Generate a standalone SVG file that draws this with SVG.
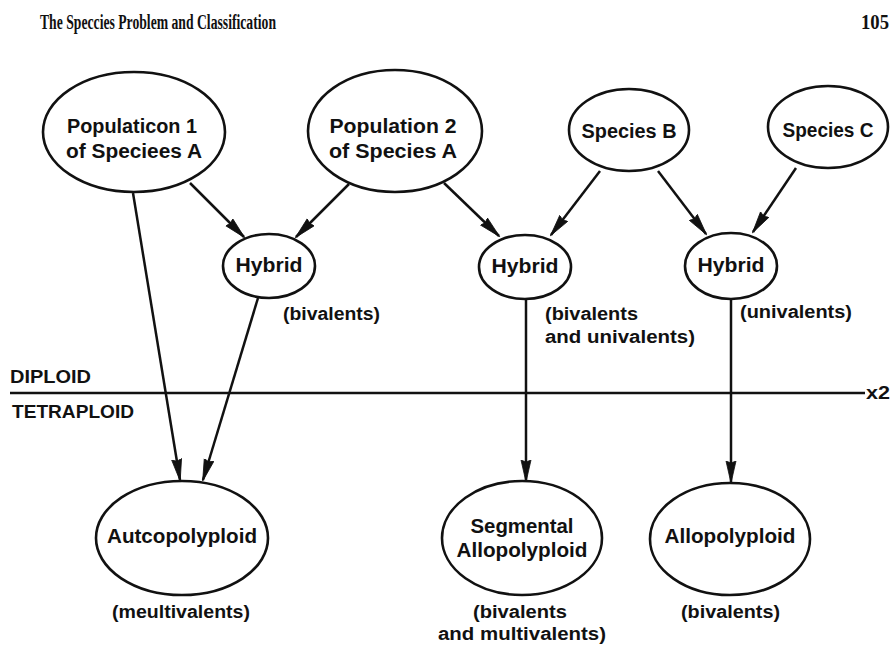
<svg xmlns="http://www.w3.org/2000/svg" width="891" height="647" viewBox="0 0 891 647">
<style>
  .node { fill: #fff; stroke: #111; stroke-width: 2.6; }
  .t { font-family: "Liberation Sans", Arial, sans-serif; font-weight: bold; font-size: 20px; fill: #111; text-anchor: middle; }
  .l { font-family: "Liberation Sans", Arial, sans-serif; font-weight: bold; font-size: 18px; fill: #111; }
  .edge { stroke: #111; stroke-width: 2.5; fill: none; marker-end: url(#arr); }
  .hdr { font-family: "Liberation Serif", "Times New Roman", serif; font-weight: bold; font-size: 20px; fill: #111; }
</style>
<defs>
  <marker id="arr" markerUnits="userSpaceOnUse" markerWidth="24" markerHeight="12" refX="21" refY="5.5" orient="auto">
    <path d="M0,0.5 L22,5.5 L0,10.5 L2,5.5 z" fill="#111" stroke="#111" stroke-width="0.8" stroke-linejoin="round"/>
  </marker>
</defs>
<rect width="891" height="647" fill="#fff"/>

<text class="hdr" x="40" y="29" textLength="236" lengthAdjust="spacingAndGlyphs">The Speccies Problem and Classification</text>
<text class="hdr" x="861" y="29" textLength="28" lengthAdjust="spacingAndGlyphs">105</text>

<g id="connectors">
  <line class="edge" x1="133" y1="193" x2="180" y2="480"/>
  <line class="edge" x1="258" y1="298" x2="203" y2="480"/>
  <line class="edge" x1="190" y1="183" x2="244" y2="237"/>
  <line class="edge" x1="349" y1="184" x2="296" y2="237"/>
  <line class="edge" x1="444" y1="183" x2="499" y2="236"/>
  <line class="edge" x1="600" y1="171" x2="551" y2="235"/>
  <line class="edge" x1="658" y1="171" x2="706" y2="234"/>
  <line class="edge" x1="796" y1="168" x2="753" y2="232"/>
  <line class="edge" x1="526" y1="300" x2="526" y2="481"/>
  <line class="edge" x1="731" y1="299" x2="731" y2="482"/>
</g>

<g id="ploidy">
  <line x1="10" y1="393" x2="865" y2="393" stroke="#111" stroke-width="2.6"/>
  <text class="l" x="10" y="383" textLength="81" lengthAdjust="spacingAndGlyphs">DIPLOID</text>
  <text class="l" x="12" y="418" textLength="122" lengthAdjust="spacingAndGlyphs">TETRAPLOID</text>
  <text class="l" x="866" y="399" textLength="24" lengthAdjust="spacingAndGlyphs">x2</text>
</g>

<g id="pop1">
  <ellipse class="node" cx="134" cy="132" rx="91" ry="60"/>
  <text class="t" x="132" y="133" textLength="130" lengthAdjust="spacingAndGlyphs">Populaticon 1</text>
  <text class="t" x="134" y="158" textLength="136" lengthAdjust="spacingAndGlyphs">of Speciees  A</text>
</g>
<g id="pop2">
  <ellipse class="node" cx="395" cy="131" rx="87" ry="61"/>
  <text class="t" x="393" y="133" textLength="127" lengthAdjust="spacingAndGlyphs">Population 2</text>
  <text class="t" x="393" y="158" textLength="128" lengthAdjust="spacingAndGlyphs">of Species  A</text>
</g>
<g id="speciesB">
  <ellipse class="node" cx="629" cy="130" rx="60" ry="41"/>
  <text class="t" x="629" y="138" textLength="95" lengthAdjust="spacingAndGlyphs">Species  B</text>
</g>
<g id="speciesC">
  <ellipse class="node" cx="828" cy="127" rx="60" ry="41"/>
  <text class="t" x="828" y="137" textLength="91" lengthAdjust="spacingAndGlyphs">Species C</text>
</g>
<g id="hybrid1">
  <ellipse class="node" cx="269" cy="266" rx="46" ry="32"/>
  <text class="t" x="269" y="272" textLength="67" lengthAdjust="spacingAndGlyphs">Hybrid</text>
  <text class="l" x="283" y="320" textLength="97" lengthAdjust="spacingAndGlyphs">(bivalents)</text>
</g>
<g id="hybrid2">
  <ellipse class="node" cx="525" cy="267" rx="46" ry="32"/>
  <text class="t" x="525" y="273" textLength="67" lengthAdjust="spacingAndGlyphs">Hybrid</text>
  <text class="l" x="545" y="320" textLength="93" lengthAdjust="spacingAndGlyphs">(bivalents</text>
  <text class="l" x="545" y="343" textLength="150" lengthAdjust="spacingAndGlyphs">and univalents)</text>
</g>
<g id="hybrid3">
  <ellipse class="node" cx="731" cy="266" rx="46" ry="33"/>
  <text class="t" x="731" y="272" textLength="67" lengthAdjust="spacingAndGlyphs">Hybrid</text>
  <text class="l" x="740" y="318" textLength="112" lengthAdjust="spacingAndGlyphs">(univalents)</text>
</g>
<g id="autopolyploid">
  <ellipse class="node" cx="182" cy="538" rx="86" ry="57"/>
  <text class="t" x="182" y="543" textLength="150" lengthAdjust="spacingAndGlyphs">Autcopolyploid</text>
  <text class="l" x="112" y="618" textLength="138" lengthAdjust="spacingAndGlyphs">(meultivalents)</text>
</g>
<g id="segmental">
  <ellipse class="node" cx="522" cy="538" rx="80" ry="57"/>
  <text class="t" x="522" y="533" textLength="103" lengthAdjust="spacingAndGlyphs">Segmental</text>
  <text class="t" x="522" y="557" textLength="131" lengthAdjust="spacingAndGlyphs">Allopolyploid</text>
  <text class="l" x="473" y="618" textLength="94" lengthAdjust="spacingAndGlyphs">(bivalents</text>
  <text class="l" x="438" y="640" textLength="168" lengthAdjust="spacingAndGlyphs">and multivalents)</text>
</g>
<g id="allopolyploid">
  <ellipse class="node" cx="730" cy="539" rx="80" ry="56"/>
  <text class="t" x="730" y="543" textLength="131" lengthAdjust="spacingAndGlyphs">Allopolyploid</text>
  <text class="l" x="681" y="618" textLength="99" lengthAdjust="spacingAndGlyphs">(bivalents)</text>
</g>
</svg>
